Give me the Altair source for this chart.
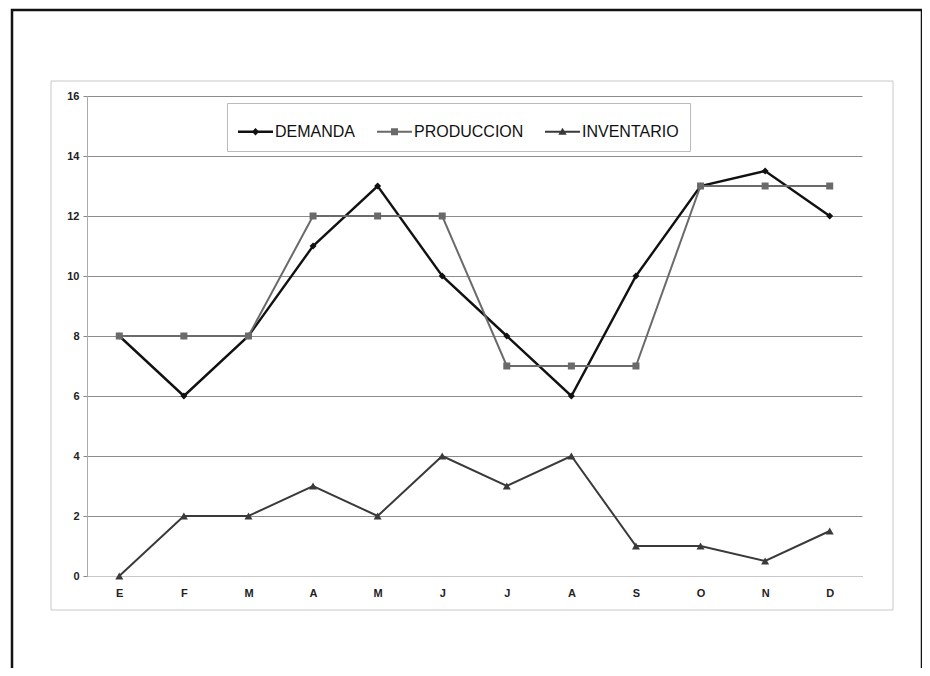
import json
import altair as alt
import pandas as pd

meses = ["E", "F", "M", "A", "M", "J", "J", "A", "S", "O", "N", "D"]
demanda = [8, 6, 8, 11, 13, 10, 8, 6, 10, 13, 13.5, 12]
produccion = [8, 8, 8, 12, 12, 12, 7, 7, 7, 13, 13, 13]
inventario = [0, 2, 2, 3, 2, 4, 3, 4, 1, 1, 0.5, 1.5]
series = ["DEMANDA", "PRODUCCION", "INVENTARIO"]
y_ticks = [0, 2, 4, 6, 8, 10, 12, 14, 16]

colores = ["#111111", "#6a6a6a", "#3a3a3a"]
grosores = [2.4, 2.0, 2.0]
formas = ["diamond", "square", "triangle-up"]
tamanos = [49, 49, 64]
leyenda_formas = [
    "M-1,-0.07H1V0.07H-1Z M0,-0.21L0.21,0L0,0.21L-0.21,0Z",
    "M-1,-0.055H1V0.055H-1Z M-0.2,-0.2H0.2V0.2H-0.2Z",
    "M-1,-0.055H1V0.055H-1Z M0,-0.23L0.24,0.17L-0.24,0.17Z",
]

FONT = "Liberation Sans"

rows = []
for s, vals in zip(series, [demanda, produccion, inventario]):
    for i, (m, v) in enumerate(zip(meses, vals)):
        rows.append({"idx": i, "mes": m, "serie": s, "valor": v})
df = pd.DataFrame(rows)

x_enc = alt.X(
    "idx:O",
    scale=alt.Scale(padding=0.5),
    axis=alt.Axis(
        title=None,
        labelExpr=json.dumps(meses) + "[datum.value]",
        labelAngle=0,
        ticks=False,
        labelPadding=11,
        domainColor="#c8c8c8",
        labelFont=FONT,
        labelFontSize=11,
        labelFontWeight="bold",
        labelColor="#222222",
        grid=False,
    ),
)
y_enc = alt.Y(
    "valor:Q",
    scale=alt.Scale(domain=[0, 16], nice=False, zero=True),
    axis=alt.Axis(
        title=None,
        values=y_ticks,
        tickSize=4,
        labelPadding=4,
        grid=True,
        gridColor="#8c8c8c",
        gridWidth=1,
        domainColor="#aaaaaa",
        tickColor="#888888",
        labelFont=FONT,
        labelFontSize=11,
        labelFontWeight="bold",
        labelColor="#222222",
    ),
)

frame_df = pd.DataFrame({"k": [0]})
outer = alt.Chart(frame_df).mark_rect(
    fill="transparent", stroke="#111111", strokeWidth=2.5
).encode(x=alt.value(-75), x2=alt.value(835), y=alt.value(-86), y2=alt.value(700))
inner = alt.Chart(frame_df).mark_rect(
    fill="transparent", stroke="#c8c8c8", strokeWidth=1
).encode(x=alt.value(-36), x2=alt.value(806), y=alt.value(-15), y2=alt.value(514))

lines = []
points = []
for s, c, w, f, t in zip(series, colores, grosores, formas, tamanos):
    base = alt.Chart(df).transform_filter(alt.datum.serie == s)
    lines.append(base.mark_line(color=c, strokeWidth=w).encode(x=x_enc, y=y_enc))
    points.append(
        base.mark_point(shape=f, filled=True, size=t, color=c, opacity=1).encode(
            x=x_enc, y=y_enc
        )
    )

legend_layer = (
    alt.Chart(df)
    .transform_filter("false")
    .mark_point(filled=True, opacity=1)
    .encode(
        x=x_enc,
        y=y_enc,
        color=alt.Color(
            "serie:N",
            scale=alt.Scale(domain=series, range=colores),
            legend=alt.Legend(title=None),
        ),
        shape=alt.Shape(
            "serie:N",
            scale=alt.Scale(domain=series, range=leyenda_formas),
            legend=alt.Legend(title=None),
        ),
    )
)

layers = [outer, inner]
for l, p in zip(lines, points):
    layers.append(l)
    layers.append(p)
layers.append(legend_layer)

chart = (
    alt.layer(*layers)
    .properties(
        width=775,
        height=480,
        padding={"left": 79, "top": 88, "right": 60, "bottom": 92},
        autosize=alt.AutoSizeParams(type="none"),
        background="white",
    )
    .configure_view(strokeWidth=0)
    .configure_legend(
        orient="none",
        legendX=140,
        legendY=7,
        direction="horizontal",
        strokeColor="#bbbbbb",
        fillColor="white",
        padding=11,
        symbolSize=1225,
        symbolStrokeWidth=0,
        labelOffset=2,
        columnPadding=21,
        labelFont=FONT,
        labelFontSize=16,
        labelColor="#111111",
    )
)

chart.save("out.html", embed_options={"renderer": "svg", "actions": False})
